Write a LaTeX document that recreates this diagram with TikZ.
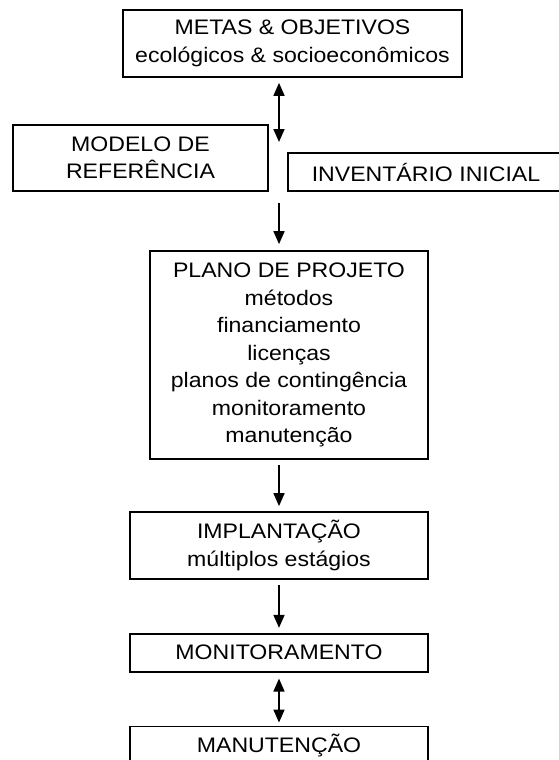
\documentclass[tikz,border=0pt]{standalone}
\usepackage{fontspec}
\setmainfont{Liberation Sans}[FakeStretch=1.1]
\usetikzlibrary{positioning}
\usetikzlibrary{arrows.meta}
\tikzset{stage/.style={draw, line width=1.7pt, align=center, inner sep=2pt,
font=\fontsize{21}{27.5}\selectfont, minimum width=298pt, minimum height=38pt},
flow/.style={-{Triangle[length=13pt, width=11pt]}, line width=1.7pt,
shorten <=5pt, shorten >=5pt}}

\begin{document}
\begin{tikzpicture}[x=1pt, y=-1pt, stage distance/.style={below=53pt of #1},
	both/.style={flow, {Triangle[length=13pt, width=11pt]}-{Triangle[length=13pt, width=11pt]}}]

	\useasboundingbox (0,0) rectangle (558,760);

	\node[stage, minimum width=339pt, minimum height=67pt] (metas) at (292.5,43.5)
		{METAS \& OBJETIVOS\\ecológicos \& socioeconômicos};
	\node[stage, minimum width=255pt, minimum height=66pt] (modelo) at (140.5,158)
		{MODELO DE\\REFERÊNCIA};
	\node[stage, minimum width=276pt] (inventario) at (426,172)
		{INVENTÁRIO INICIAL};
	\node[stage, minimum width=278pt, minimum height=208pt] (plano) at (289,355)
		{PLANO DE PROJETO\\métodos\\financiamento\\licenças\\planos de contingência\\monitoramento\\manutenção};
	\node[stage, minimum height=67pt] (implantacao) at (279,545.5)
		{IMPLANTAÇÃO\\múltiplos estágios};
	\node[stage, stage distance=implantacao] (monit) {MONITORAMENTO};
	\node[stage, stage distance=monit] (manut) {MANUTENÇÃO};

	\coordinate (fork) at (279,142);
	\coordinate (join) at (279,203);

	\draw[both, shorten >=0pt] (metas.south -| fork) -- (fork);
	\draw[flow, shorten <=0pt, shorten >=6pt] (join) -- (join |- plano.north);
	\draw[flow] (implantacao.north |- plano.south) -- (implantacao.north);
	\draw[flow] (implantacao.south) -- (monit.north);
	\draw[both, shorten <=6pt, shorten >=3pt] (monit.south) -- (manut.north);
\end{tikzpicture}
\end{document}
